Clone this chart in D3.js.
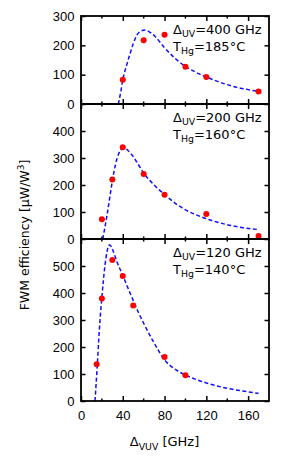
<!DOCTYPE html>
<html>
<head>
<meta charset="utf-8">
<script src="https://d3js.org/d3.v7.min.js"></script>
<style>
  body { margin: 0; background: #fff; }
  svg { display: block; font-family: "DejaVu Sans", "Liberation Sans", sans-serif; }
</style>
</head>
<body>
<div id="chart"></div>
<script>
// Layout
const width = 290;
const height = 463;
const plotLeft = 81;
const plotRight = 269;

// Shared x axis (Δ_VUV, GHz)
const xDomain = [0, 180];
const xTicks = [0, 40, 80, 120, 160];
const xMinorTicks = [20, 60, 100, 140];

// Panel 1 : Δ_UV = 400 GHz, T_Hg = 185°C
const yTicks400 = [0, 100, 200, 300];
const dvuv400 = [40, 60, 80, 100, 120, 170];
const eff400 = [83, 217, 236, 127, 92, 43];
const fitDvuv400 = [35.8, 38, 40, 44, 47, 50, 53.5, 57, 61, 65, 71, 80, 90, 100, 110, 120, 130, 140, 150, 160, 170];
const fitEff400 = [0, 40, 82, 136, 172, 205, 235, 248, 252, 247, 230, 192, 156, 128, 108, 92, 78, 66, 56, 49, 43];

// Panel 2 : Δ_UV = 200 GHz, T_Hg = 160°C
const yTicks200 = [0, 100, 200, 300, 400];
const dvuv200 = [20, 30, 40, 60, 80, 120, 170];
const eff200 = [73, 220, 340, 241, 164, 93, 11];
const fitDvuv200 = [20.8, 23, 25, 28, 30, 33, 36, 40, 42, 45, 50, 55, 60, 70, 80, 90, 100, 110, 120, 130, 140, 155, 170];
const fitEff200 = [0, 45, 90, 165, 215, 275, 315, 335, 336, 328, 305, 275, 245, 200, 165, 133, 108, 90, 75, 63, 53, 42, 35];

// Panel 3 : Δ_UV = 120 GHz, T_Hg = 140°C
const yTicks120 = [0, 100, 200, 300, 400, 500];
const dvuv120 = [15, 20, 30, 40, 50, 80, 100];
const eff120 = [136, 380, 522, 463, 354, 163, 95];
const fitDvuv120 = [13.4, 14.5, 15.6, 17.5, 19.9, 23, 25, 27.2, 29, 31, 35, 40, 45, 50, 55, 60, 70, 80, 90, 100, 110, 120, 140, 155, 170];
const fitEff120 = [0, 65, 133, 260, 380, 504, 555, 578, 572, 553, 510, 465, 418, 372, 328, 288, 215, 152, 118, 96, 80, 67, 47, 37, 28];

// Panels, top to bottom
const panels = [
  { top: 16, bottom: 104, yMax: 300, yTicks: yTicks400, uv: "400", temp: "185",
    x: dvuv400, y: eff400, fx: fitDvuv400, fy: fitEff400, topTicks: "down" },
  { top: 104, bottom: 239, yMax: 500, yTicks: yTicks200, uv: "200", temp: "160",
    x: dvuv200, y: eff200, fx: fitDvuv200, fy: fitEff200, topTicks: "down" },
  { top: 239, bottom: 401, yMax: 600, yTicks: yTicks120, uv: "120", temp: "140",
    x: dvuv120, y: eff120, fx: fitDvuv120, fy: fitEff120, topTicks: "down" }
];

const svg = d3
  .select("#chart")
  .append("svg")
  .attr("width", width)
  .attr("height", height);

const x = d3.scaleLinear().domain(xDomain).range([plotLeft, plotRight]);

// Text with sub/superscripts : parts = [[text, "sub"|"sup"|null], ...]
function richText(sel, parts, size) {
  let shift = 0;
  parts.forEach(([t, kind]) => {
    const target = kind === "sub" ? 3.5 : kind === "sup" ? -5 : 0;
    sel
      .append("tspan")
      .attr("dy", target - shift)
      .style("font-size", kind ? size * 0.72 + "px" : size + "px")
      .text(t);
    shift = target;
  });
}

panels.forEach((p, i) => {
  const y = d3.scaleLinear().domain([0, p.yMax]).range([p.bottom, p.top]);
  const g = svg.append("g");

  // Fit curve (dashed)
  const line = d3
    .line()
    .x((d) => x(d[0]))
    .y((d) => y(d[1]))
    .curve(d3.curveMonotoneX);

  g.append("path")
    .datum(d3.zip(p.fx, p.fy))
    .attr("d", line)
    .attr("fill", "none")
    .attr("stroke", "#1010ff")
    .attr("stroke-width", 1.5)
    .attr("stroke-dasharray", "4,2.5");

  // Measured points
  g.selectAll("circle")
    .data(d3.zip(p.x, p.y))
    .join("circle")
    .attr("cx", (d) => x(d[0]))
    .attr("cy", (d) => y(d[1]))
    .attr("r", 3)
    .attr("fill", "#ff0000");

  // Left axis with labels, ticks inward
  const left = g
    .append("g")
    .attr("transform", `translate(${plotLeft},0)`)
    .call(d3.axisLeft(y).tickValues(p.yTicks).tickSize(-4.5).tickPadding(6.5));

  // Right axis, ticks only
  const right = g
    .append("g")
    .attr("transform", `translate(${plotRight},0)`)
    .call(d3.axisRight(y).tickValues(p.yTicks).tickSize(-4.5).tickFormat(""));

  // Bottom ticks (up) and top ticks (down)
  const bottom = g
    .append("g")
    .attr("transform", `translate(0,${p.bottom})`)
    .call(
      d3
        .axisBottom(x)
        .tickValues(xTicks)
        .tickSize(-5)
        .tickPadding(10)
        .tickFormat(i === panels.length - 1 ? d3.format("d") : "")
    );
  bottom
    .append("g")
    .selectAll("line")
    .data(xMinorTicks)
    .join("line")
    .attr("x1", (d) => x(d))
    .attr("x2", (d) => x(d))
    .attr("y1", 0)
    .attr("y2", -2.5);

  const top = g
    .append("g")
    .attr("transform", `translate(0,${p.top})`)
    .call(d3.axisTop(x).tickValues(xTicks).tickSize(-5).tickFormat(""));
  top
    .append("g")
    .selectAll("line")
    .data(xMinorTicks)
    .join("line")
    .attr("x1", (d) => x(d))
    .attr("x2", (d) => x(d))
    .attr("y1", 0)
    .attr("y2", 2.5);

  [left, right, bottom, top].forEach((a) => {
    a.select(".domain").remove();
    a.selectAll("line").attr("stroke", "#000").attr("stroke-width", 1.5);
    a.selectAll("text").attr("fill", "#000").style("font-size", "13px");
  });

  // Frame
  g.append("rect")
    .attr("x", plotLeft)
    .attr("y", p.top)
    .attr("width", plotRight - plotLeft)
    .attr("height", p.bottom - p.top)
    .attr("fill", "none")
    .attr("stroke", "#000")
    .attr("stroke-width", 1.8);

  // Annotation
  const t1 = g.append("text").attr("x", 173).attr("y", p.top + 17.5);
  richText(t1, [["Δ", null], ["UV", "sub"], ["=" + p.uv + " GHz", null]], 13);
  const t2 = g.append("text").attr("x", 173).attr("y", p.top + 34.5);
  richText(t2, [["T", null], ["Hg", "sub"], ["=" + p.temp + "°C", null]], 13);
});

// Axis titles
const xt = svg
  .append("text")
  .attr("x", 164.5)
  .attr("y", 446)
  .attr("text-anchor", "middle");
richText(xt, [["Δ", null], ["VUV", "sub"], [" [GHz]", null]], 13);

const yt = svg
  .append("text")
  .attr("transform", "translate(29,235) rotate(-90)")
  .attr("text-anchor", "middle");
richText(yt, [["FWM efficiency [μW/W", null], ["3", "sup"], ["]", null]], 12.5);
</script>
</body>
</html>
